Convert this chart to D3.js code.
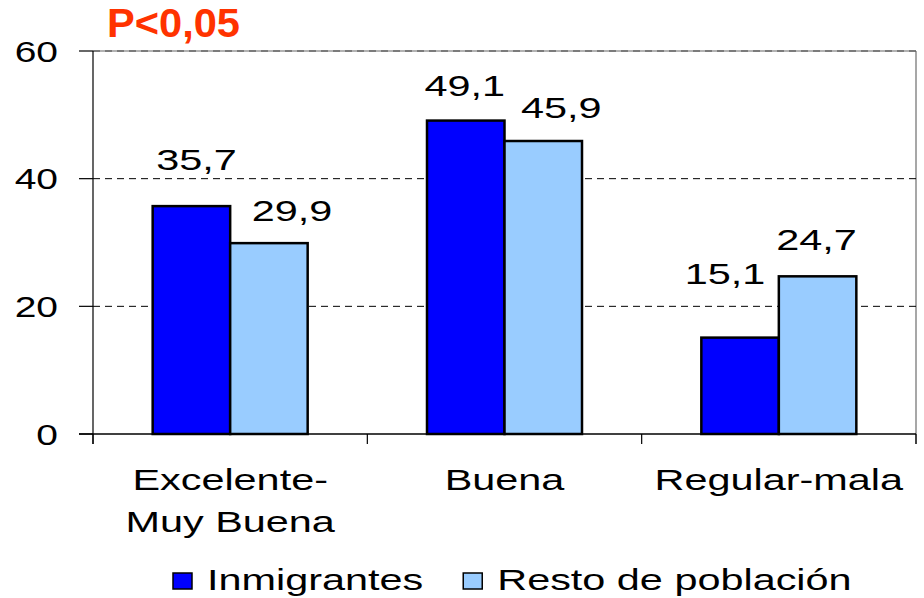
<!DOCTYPE html>
<html lang="es">
<head>
    <meta charset="UTF-8">
    <title>Estado de salud percibido</title>
    <script src="https://d3js.org/d3.v7.min.js"></script>
    <style>
        body { margin: 0; background: white; }
        text { font-family: Arial, 'Liberation Sans', sans-serif; fill: black; }
    </style>
</head>
<body>
<script>
    // data
    const categories = [["Excelente-", "Muy Buena"], ["Buena"], ["Regular-mala"]];
    const series = ["Inmigrantes", "Resto de población"];
    const inmigrantes = [35.7, 49.1, 15.1];
    const resto = [29.9, 45.9, 24.7];
    const yTicks = [0, 20, 40, 60];
    const note = "P<0,05";

    const width = 924;
    const height = 598;
    const colors = ["#0000ff", "#99ccff"];
    const sx = 1.38; // the original text is stretched sideways

    // hand placed value labels in the original: [dx, dy] from default spot
    const nudge = [[[5, -12], [23, 2]], [[-1, -1], [18, 1]], [[-15, -30], [-1, -2]]];

    const plotLeft = 93, plotRight = 916, plotTop = 51, plotBottom = 434;

    const svg = d3.select("body").append("svg").attr("width", width).attr("height", height);

    const catKeys = categories.map(c => c.join(" "));
    const x = d3.scaleBand().domain(catKeys).range([plotLeft, plotRight]);
    const barsW = 155;
    const x1 = d3.scaleBand().domain(series).range([0, barsW]);
    const y = d3.scaleLinear().domain([0, 60]).range([plotBottom, plotTop]);

    const fmt = v => String(v).replace(".", ",");

    function stretchText(sel, tx, ty, s) {
        return sel.attr("transform", `translate(${tx},${ty}) scale(${s},1)`);
    }

    // plot frame
    svg.append("line").attr("x1", plotLeft).attr("x2", plotRight).attr("y1", plotTop).attr("y2", plotTop)
        .attr("stroke", "#999").attr("stroke-width", 1.5);
    svg.append("line").attr("x1", plotRight).attr("x2", plotRight).attr("y1", plotTop).attr("y2", plotBottom + 10)
        .attr("stroke", "#8a8a8a").attr("stroke-width", 1.5);

    // gridlines
    svg.selectAll(".grid").data(yTicks.filter(d => d > 0)).join("line")
        .attr("class", "grid")
        .attr("x1", plotLeft).attr("x2", plotRight)
        .attr("y1", d => y(d)).attr("y2", d => y(d))
        .attr("stroke", d => d === 60 ? "#444" : "black").attr("stroke-width", 1)
        .attr("stroke-dasharray", "7,5");

    // bars
    const data = categories.map((c, i) => ({key: catKeys[i], values: [inmigrantes[i], resto[i]]}));
    const groups = svg.selectAll(".group").data(data).join("g")
        .attr("class", "group")
        .attr("transform", d => `translate(${x(d.key) + (x.bandwidth() - barsW) / 2},0)`);

    groups.selectAll("rect").data(d => d.values.map((v, j) => ({s: series[j], v: v, j: j}))).join("rect")
        .attr("x", d => x1(d.s))
        .attr("width", x1.bandwidth())
        .attr("y", d => y(d.v))
        .attr("height", d => y(0) - y(d.v))
        .attr("fill", d => colors[d.j])
        .attr("stroke", "black")
        .attr("stroke-width", 2.5);

    // value labels
    data.forEach((d, i) => {
        d.values.forEach((v, j) => {
            const cx = x(d.key) + (x.bandwidth() - barsW) / 2 + x1(series[j]) + x1.bandwidth() / 2;
            const t = svg.append("text")
                .attr("text-anchor", "middle")
                .attr("font-size", 30)
                .text(fmt(v));
            stretchText(t, cx + nudge[i][j][0], y(v) - 24 + nudge[i][j][1], sx);
        });
    });

    // axes
    svg.append("line").attr("x1", plotLeft).attr("x2", plotLeft).attr("y1", plotTop).attr("y2", plotBottom + 10)
        .attr("stroke", "black").attr("stroke-width", 1.2);
    svg.append("line").attr("x1", plotLeft - 14).attr("x2", plotRight).attr("y1", plotBottom).attr("y2", plotBottom)
        .attr("stroke", "black").attr("stroke-width", 1.5);

    svg.selectAll(".ytick").data(yTicks).join("line")
        .attr("class", "ytick")
        .attr("x1", plotLeft - 14).attr("x2", plotLeft)
        .attr("y1", d => y(d)).attr("y2", d => y(d))
        .attr("stroke", "black").attr("stroke-width", 1.2);

    svg.selectAll(".ylab").data(yTicks).join("text")
        .attr("class", "ylab")
        .attr("text-anchor", "end")
        .attr("font-size", 30)
        .text(d => d)
        .each(function (d) { stretchText(d3.select(this), 58, y(d) + 10.5, 1.3); });

    const bounds = catKeys.map(k => x(k)).concat([plotRight]);
    svg.selectAll(".xtick").data(bounds).join("line")
        .attr("class", "xtick")
        .attr("x1", d => d).attr("x2", d => d)
        .attr("y1", plotBottom).attr("y2", plotBottom + 10)
        .attr("stroke", "black").attr("stroke-width", 1.2);

    categories.forEach((lines, i) => {
        const cx = x(catKeys[i]) + x.bandwidth() / 2;
        lines.forEach((ln, k) => {
            const t = svg.append("text").attr("text-anchor", "middle").attr("font-size", 30).text(ln);
            stretchText(t, cx, 490 + k * 42, sx);
        });
    });

    // significance note
    const title = svg.append("text")
        .attr("font-size", 40).attr("font-weight", "bold")
        .style("fill", "#ff3300")
        .text(note);
    stretchText(title, 107, 37, 1.04);

    // legend
    let lx = 173;
    series.forEach((s, j) => {
        svg.append("rect")
            .attr("x", lx).attr("y", 573).attr("width", 19).attr("height", 16)
            .attr("fill", colors[j]).attr("stroke", "black").attr("stroke-width", 1.5);
        const t = svg.append("text").attr("font-size", 30).text(s);
        stretchText(t, lx + 34, 590, 1.38);
        lx += 34 + t.node().getComputedTextLength() * 1.38 + 40;
    });
</script>
</body>
</html>
